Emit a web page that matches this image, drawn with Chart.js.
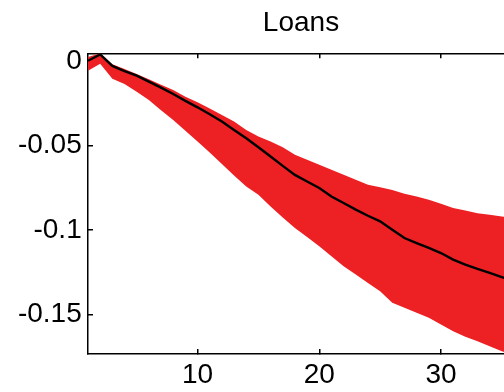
<!DOCTYPE html>
<html lang="en">
<head>
  <meta charset="UTF-8">
  <title>Loans</title>
  <script src="https://cdn.jsdelivr.net/npm/chart.js"></script>
  <style>
    html, body {
      margin: 0;
      padding: 0;
      background: #ffffff;
      overflow: hidden;
    }
    #wrap {
      width: 514px;
      height: 392px;
    }
  </style>
</head>
<body>
  <div id="wrap">
    <canvas id="loansChart" width="514" height="392"></canvas>
  </div>

  <script>
    // horizons (x) and the impulse response with its band
    const horizons = [1, 2, 3, 4, 5, 6, 7, 8, 9, 10, 11, 12, 13, 14, 15, 16, 17, 18,
                      19, 20, 21, 22, 23, 24, 25, 26, 27, 28, 29, 30, 31, 32, 33, 34, 35, 36];
    const median = [0.0003, 0.0040, -0.0028, -0.0058, -0.0085, -0.0121, -0.0156, -0.0194, -0.0235,
                    -0.0273, -0.0314, -0.0357, -0.0407, -0.0456, -0.0509, -0.0564, -0.0620, -0.0673,
                    -0.0712, -0.0751, -0.0801, -0.0840, -0.0879, -0.0915, -0.0948, -0.0998, -0.1047,
                    -0.1077, -0.1106, -0.1136, -0.1175, -0.1204, -0.1230, -0.1254, -0.1279, -0.1303];
    const upper = [0.0025, 0.0047, -0.0018, -0.0046, -0.0076, -0.0107, -0.0140, -0.0170, -0.0210,
                   -0.0243, -0.0280, -0.0318, -0.0357, -0.0407, -0.0446, -0.0476, -0.0509, -0.0554,
                   -0.0584, -0.0613, -0.0643, -0.0673, -0.0702, -0.0732, -0.0746, -0.0762, -0.0785,
                   -0.0801, -0.0821, -0.0844, -0.0870, -0.0884, -0.0900, -0.0909, -0.0919, -0.0929];
    const lower = [-0.0057, -0.0015, -0.0103, -0.0135, -0.0180, -0.0230, -0.0290, -0.0348, -0.0412,
                   -0.0476, -0.0540, -0.0608, -0.0677, -0.0742, -0.0791, -0.0860, -0.0925, -0.0988,
                   -0.1041, -0.1096, -0.1155, -0.1214, -0.1263, -0.1313, -0.1362, -0.1431, -0.1460,
                   -0.1490, -0.1520, -0.1559, -0.1599, -0.1632, -0.1658, -0.1688, -0.1717, -0.1740];
    const xTicks = [10, 20, 30];
    const yTicks = [0, -0.05, -0.1, -0.15];
    const yTickLabels = ['0', '-0.05', '-0.1', '-0.15'];

    const FONT = "'Liberation Sans', Arial, sans-serif";
    const RED = '#ed2024';

    const setTicks = (values) => (scale) => {
      scale.ticks = values.map(v => ({ value: v }));
    };

    const ctx = document.getElementById('loansChart').getContext('2d');
    new Chart(ctx, {
      type: 'line',
      data: {
        labels: horizons,
        datasets: [
          {
            label: 'Median',
            data: median,
            borderColor: '#000000',
            borderWidth: 2.4,
            pointRadius: 0,
            fill: false,
            order: 0
          },
          {
            label: 'Upper',
            data: upper,
            borderWidth: 0,
            borderColor: RED,
            backgroundColor: RED,
            pointRadius: 0,
            fill: '+1',
            order: 1
          },
          {
            label: 'Lower',
            data: lower,
            borderWidth: 0,
            borderColor: RED,
            backgroundColor: RED,
            pointRadius: 0,
            fill: false,
            order: 2
          }
        ]
      },
      options: {
        responsive: false,
        animation: false,
        layout: { padding: 0 },
        plugins: {
          legend: { display: false },
          tooltip: { enabled: false },
          title: {
            display: true,
            text: 'Loans',
            fullSize: false,
            color: '#000000',
            font: { family: FONT, size: 28, weight: 'normal' },
            padding: { top: 6.5, bottom: 13.2 }
          }
        },
        scales: {
          x: {
            type: 'linear',
            position: 'bottom',
            min: 1,
            max: 36,
            afterBuildTicks: setTicks(xTicks),
            afterFit: (s) => { s.height = 38; },
            border: { color: '#000000', width: 1.5 },
            grid: { drawOnChartArea: false, color: '#000000', lineWidth: 1.5, tickLength: -5 },
            ticks: { color: '#000000', padding: 9.2, maxRotation: 0, font: { family: FONT, size: 28 } }
          },
          x2: {
            type: 'linear',
            position: 'top',
            min: 1,
            max: 36,
            afterBuildTicks: setTicks(xTicks),
            afterFit: (s) => { s.height = 0; },
            border: { color: '#000000', width: 1.5 },
            grid: { drawOnChartArea: false, color: '#000000', lineWidth: 1.5, tickLength: -5 },
            ticks: { display: false }
          },
          y: {
            type: 'linear',
            position: 'left',
            min: -0.1734,
            max: 0.0047,
            afterBuildTicks: setTicks(yTicks),
            afterFit: (s) => { s.width = 88; },
            border: { color: '#000000', width: 1.5 },
            grid: { drawOnChartArea: false, color: '#000000', lineWidth: 1.5, tickLength: -5 },
            ticks: {
              color: '#000000',
              padding: 11.3,
              font: { family: FONT, size: 28 },
              callback: (value, index) => yTickLabels[index]
            }
          }
        }
      }
    });
  </script>
</body>
</html>
